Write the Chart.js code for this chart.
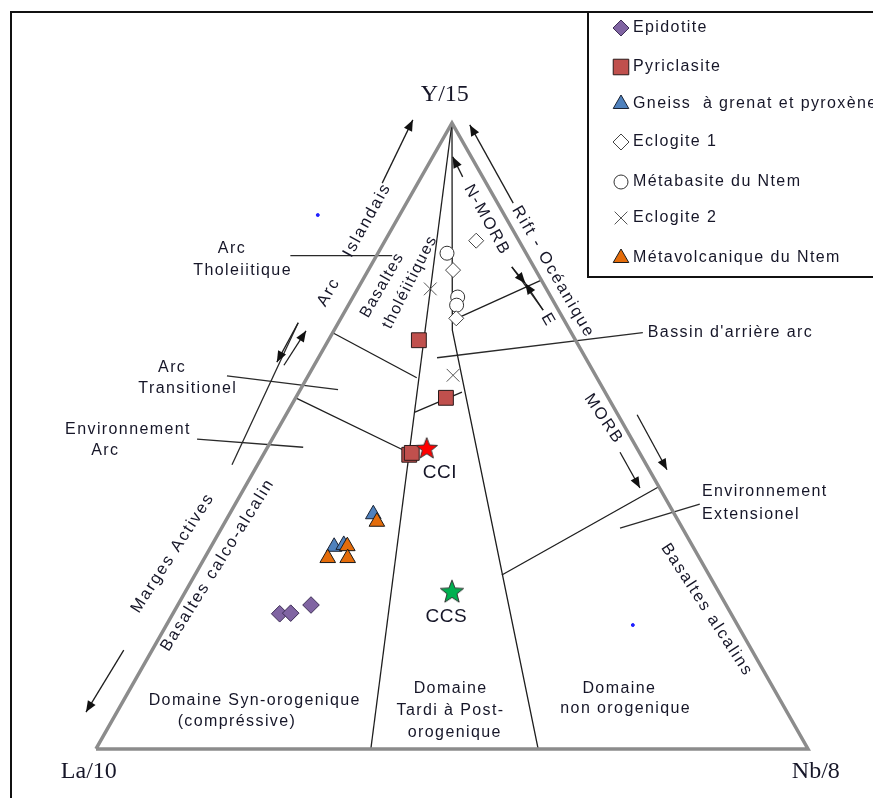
<!DOCTYPE html>
<html>
<head>
<meta charset="utf-8">
<script src="https://cdn.jsdelivr.net/npm/chart.js@4.4.0/dist/chart.umd.min.js"></script>
<style>
    html, body { margin: 0; padding: 0; background: #fff; }
</style>
</head>
<body>
<canvas id="myChart" width="873" height="798"></canvas>
<script>
// samples as [La/10, Y/15, Nb/8] in %
const epidotite = [[63.4, 21.6, 15.0], [61.8, 21.7, 16.5], [58.3, 23.0, 18.7]];
const pyriclasite = [[22.0, 65.3, 12.7], [22.8, 56.1, 21.1], [32.5, 47.0, 20.5], [32.0, 47.3, 20.7]];
const gneiss = [[42.3, 37.5, 20.2], [50.4, 32.3, 17.3], [48.9, 32.6, 18.5]];
const eclogite1 = [[6.0, 81.2, 12.8], [11.6, 76.5, 11.9], [15.0, 68.8, 16.2]];
const metabasite = [[11.1, 79.2, 9.7], [13.1, 72.2, 14.7], [13.9, 70.9, 15.2]];
const eclogite2 = [[16.3, 73.5, 10.2], [20.0, 59.7, 20.3]];
const metavolcanique = [[42.4, 36.3, 21.3], [48.5, 32.4, 19.1], [52.2, 30.5, 17.3], [49.4, 30.5, 20.1]];
const cci = [[29.5, 48.1, 22.4]];
const ccs = [[37.4, 25.2, 37.4]];
const strayDots = [[26.2, 85.3, -11.5], [14.7, 19.8, 65.5]];

// triangle and field boundaries, ternary
const triangle = [[100, 0, 0], [0, 0, 100], [0, 100, 0], [100, 0, 0]];
const fieldLines = [
    [[0, 100, 0], [61.4, 0, 38.6]],
    [[0, 100, 0], [16.5, 66.9, 16.6], [37.9, 0, 62.1]],
    [[33.5, 66.5, 0], [25.3, 59.3, 15.4]],
    [[43.9, 56.1, 0], [32.5, 47.4, 20.1]],
    [[28.3, 53.8, 17.9], [20.1, 57.0, 22.9]],
    [[15.6, 68.5, 15.9], [0, 74.9, 25.1]],
    [[29.1, 27.8, 43.1], [0, 41.9, 58.1]]
];

// leader lines and arrows, plot coords (x, y)
const leaders = [
    [[27.3, 78.8], [41.6, 78.8]],
    [[18.4, 59.6], [34.0, 57.4]],
    [[14.2, 49.5], [29.1, 48.2]],
    [[47.9, 62.5], [76.8, 66.5]],
    [[73.6, 35.3], [84.8, 39.1]],
    [[19.1, 45.4], [28.4, 68.1]],
    [[58.4, 77.0], [62.8, 70.1]]
];
const arrows = [
    [[40.2, 90.4], [44.5, 100.5]],
    [[28.4, 68.1], [25.4, 61.8]],
    [[26.4, 61.3], [29.5, 66.8]],
    [[3.9, 15.8], [-1.4, 5.9]],
    [[58.6, 87.2], [52.5, 99.7]],
    [[51.5, 91.4], [50.1, 94.6]],
    [[73.6, 47.4], [76.4, 41.7]],
    [[76.0, 53.4], [80.2, 44.6]],
    [[58.4, 77.0], [60.3, 74.4]],
    [[62.8, 70.1], [60.3, 74.4]]
];

// [text, x, y, rotation, kind]
const labels = [
    ['Y/15', 49.0, 104.5, 0, 'serif'],
    ['La/10', -1.0, -3.7, 0, 'serif'],
    ['Nb/8', 101.1, -3.7, 0, 'serif'],
    ['Arc', 19.1, 80.0, 0],
    ['Tholeiitique', 20.6, 76.5, 0],
    ['Arc', 10.7, 61.0, 0],
    ['Transitionel', 12.9, 57.5, 0],
    ['Environnement', 4.5, 51.1, 0],
    ['Arc', 1.3, 47.6, 0],
    ["Bassin d'arrière arc", 77.5, 66.5, 0, 'left'],
    ['Environnement', 85.1, 41.1, 0, 'left'],
    ['Extensionel', 85.1, 37.5, 0, 'left'],
    ['Domaine Syn-orogenique', 22.3, 7.8, 0],
    ['(compréssive)', 19.8, 4.4, 0],
    ['Domaine', 49.8, 9.6, 0],
    ['Tardi à Post-', 49.8, 6.1, 0],
    ['orogenique', 50.4, 2.6, 0],
    ['Domaine', 73.5, 9.7, 0],
    ['non orogenique', 74.4, 6.4, 0],
    ['CCI', 48.3, 44.1, 0, 'big'],
    ['CCS', 49.2, 21.1, 0, 'big'],
    ['Arc', 32.7, 73.0, -60, 'rot'],
    ['Islandais', 38.1, 84.5, -61, 'rot'],
    ['Basaltes', 40.2, 74.1, -60],
    ['tholéiitiques', 44.1, 74.6, -63],
    ['Marges Actives', 10.8, 31.3, -57, 'rot'],
    ['Basaltes calco-alcalin', 17.1, 29.4, -58, 'rot'],
    ['N-MORB', 54.9, 84.5, 61, 'rot'],
    ['Rift - Océanique', 64.2, 76.2, 60, 'rot'],
    ['E', 63.5, 68.5, 60, 'rot'],
    ['MORB', 71.3, 52.7, 56, 'rot'],
    ['Basaltes alcalins', 85.8, 22.2, 57, 'rot']
];

function tern(p) {
    const s = p[0] + p[1] + p[2];
    const y = p[1] / s * 100;
    return { x: p[2] / s * 100 + y / 2, y: y };
}

function xy(p) {
    return { x: p[0], y: p[1] };
}

function star(fill, size) {
    const c = document.createElement('canvas');
    c.width = size;
    c.height = size;
    const g = c.getContext('2d');
    g.beginPath();
    for (let i = 0; i < 10; i++) {
        const r = i % 2 ? size * 0.2 : size * 0.47;
        const a = -Math.PI / 2 + i * Math.PI / 5;
        g.lineTo(size / 2 + r * Math.cos(a), size * 0.54 + r * Math.sin(a));
    }
    g.closePath();
    g.fillStyle = fill;
    g.fill();
    g.strokeStyle = '#333';
    g.lineWidth = 1;
    g.stroke();
    return c;
}

function lineSet(points, color, width) {
    return {
        data: points,
        showLine: true,
        borderColor: color,
        borderWidth: width,
        pointRadius: 0,
        order: 10
    };
}

function pointSet(name, rows, style, radius, fill, stroke, legendRadius, order) {
    return {
        label: name,
        data: rows.map(tern),
        pointStyle: style,
        pointRadius: radius,
        backgroundColor: fill,
        borderColor: stroke,
        borderWidth: 1,
        legendRadius: legendRadius,
        order: order
    };
}

const datasets = [
    lineSet(triangle.map(tern), '#8c8c8c', 3.5),
    ...fieldLines.map(l => lineSet(l.map(tern), '#1e1e1e', 1.3)),
    ...leaders.map(l => lineSet(l.map(xy), '#2a2a2a', 1.3)),
    pointSet('Epidotite', epidotite, 'rectRot', 8.3, '#8064a2', '#3c2d55', 8, 3),
    pointSet('Pyriclasite', pyriclasite, 'rect', 10.5, '#c0504d', '#2a1a1a', 11, 3),
    pointSet('Gneiss  à grenat et pyroxène', gneiss, 'triangle', 9, '#4f81bd', '#1a2233', 9, 5),
    pointSet('Eclogite 1', eclogite1, 'rectRot', 7.5, '#ffffff', '#444444', 8, 3),
    pointSet('Métabasite du Ntem', metabasite, 'circle', 7, '#ffffff', '#333333', 7, 3),
    pointSet('Eclogite 2', eclogite2, 'crossRot', 9, '#ffffff', '#555555', 9, 3),
    pointSet('Métavolcanique du Ntem', metavolcanique, 'triangle', 9, '#e46c0a', '#1a1a1a', 9, 4),
    pointSet('CCI', cci, star('#ff0000', 24), 12, '#ff0000', '#333', 0, 2),
    pointSet('CCS', ccs, star('#00b050', 26), 13, '#00b050', '#333', 0, 2),
    pointSet('', strayDots, 'circle', 1.5, '#2020ff', '#2020ff', 0, 2)
];

const decorations = {
    id: 'decorations',
    afterDatasetsDraw(chart) {
        const c = chart.ctx;
        const sx = chart.scales.x;
        const sy = chart.scales.y;
        const px = p => [sx.getPixelForValue(p[0]), sy.getPixelForValue(p[1])];

        // arrows
        c.save();
        c.strokeStyle = '#1e1e1e';
        c.fillStyle = '#111';
        c.lineWidth = 1.3;
        arrows.forEach(a => {
            const [x0, y0] = px(a[0]);
            const [x1, y1] = px(a[1]);
            const ang = Math.atan2(y1 - y0, x1 - x0);
            c.beginPath();
            c.moveTo(x0, y0);
            c.lineTo(x1, y1);
            c.stroke();
            c.beginPath();
            c.moveTo(x1, y1);
            c.lineTo(x1 - 11 * Math.cos(ang) + 4.5 * Math.sin(ang), y1 - 11 * Math.sin(ang) - 4.5 * Math.cos(ang));
            c.lineTo(x1 - 11 * Math.cos(ang) - 4.5 * Math.sin(ang), y1 - 11 * Math.sin(ang) + 4.5 * Math.cos(ang));
            c.closePath();
            c.fill();
        });
        c.restore();

        // text labels
        labels.forEach(l => {
            const [x, y] = px([l[1], l[2]]);
            c.save();
            c.translate(x, y);
            c.rotate(l[3] * Math.PI / 180);
            c.fillStyle = '#161628';
            c.textBaseline = 'middle';
            c.textAlign = l[4] === 'left' ? 'left' : 'center';
            if (l[4] === 'serif') {
                c.font = '24px "Liberation Serif"';
                c.letterSpacing = '0px';
            } else if (l[4] === 'big') {
                c.font = '19px "Liberation Sans"';
                c.letterSpacing = '0.5px';
            } else if (l[4] === 'rot') {
                c.font = '16.5px "Liberation Sans"';
                c.letterSpacing = '1.9px';
            } else {
                c.font = '16px "Liberation Sans"';
                c.letterSpacing = '1.4px';
            }
            c.fillText(l[0], 0, 0);
            c.restore();
        });
    },
    afterDraw(chart) {
        const c = chart.ctx;
        c.save();
        // outer frame and legend box
        c.strokeStyle = '#111';
        c.lineWidth = 2;
        c.beginPath();
        c.moveTo(11, 800);
        c.lineTo(11, 12);
        c.lineTo(880, 12);
        c.stroke();
        c.beginPath();
        c.moveTo(880, 277);
        c.lineTo(588, 277);
        c.lineTo(588, 12);
        c.stroke();

        // legend rows
        const rows = [28, 67, 104, 142, 182, 218, 258];
        let i = 0;
        chart.data.datasets.forEach(ds => {
            if (!ds.legendRadius) return;
            const y = rows[i++];
            c.fillStyle = ds.backgroundColor;
            c.strokeStyle = ds.borderColor;
            c.lineWidth = ds.borderWidth;
            Chart.helpers.drawPoint(c, {
                pointStyle: ds.pointStyle,
                radius: ds.legendRadius,
                rotation: 0,
                borderWidth: ds.borderWidth
            }, 621, y);
            c.fillStyle = '#161628';
            c.font = '16px "Liberation Sans"';
            c.letterSpacing = '1.4px';
            c.textBaseline = 'middle';
            c.textAlign = 'left';
            c.fillText(ds.label, 633, y);
        });
        c.restore();
    }
};

const ctx1 = document.getElementById('myChart');

new Chart(ctx1, {
    type: 'scatter',
    data: { datasets: datasets },
    options: {
        responsive: false,
        animation: false,
        devicePixelRatio: 1,
        layout: { padding: 0, autoPadding: false },
        scales: {
            x: { type: 'linear', min: -13.48, max: 109.13, display: false },
            y: { type: 'linear', min: -7.83, max: 119.65, display: false }
        },
        plugins: {
            legend: { display: false },
            tooltip: { enabled: false }
        }
    },
    plugins: [decorations]
});
</script>
</body>
</html>
